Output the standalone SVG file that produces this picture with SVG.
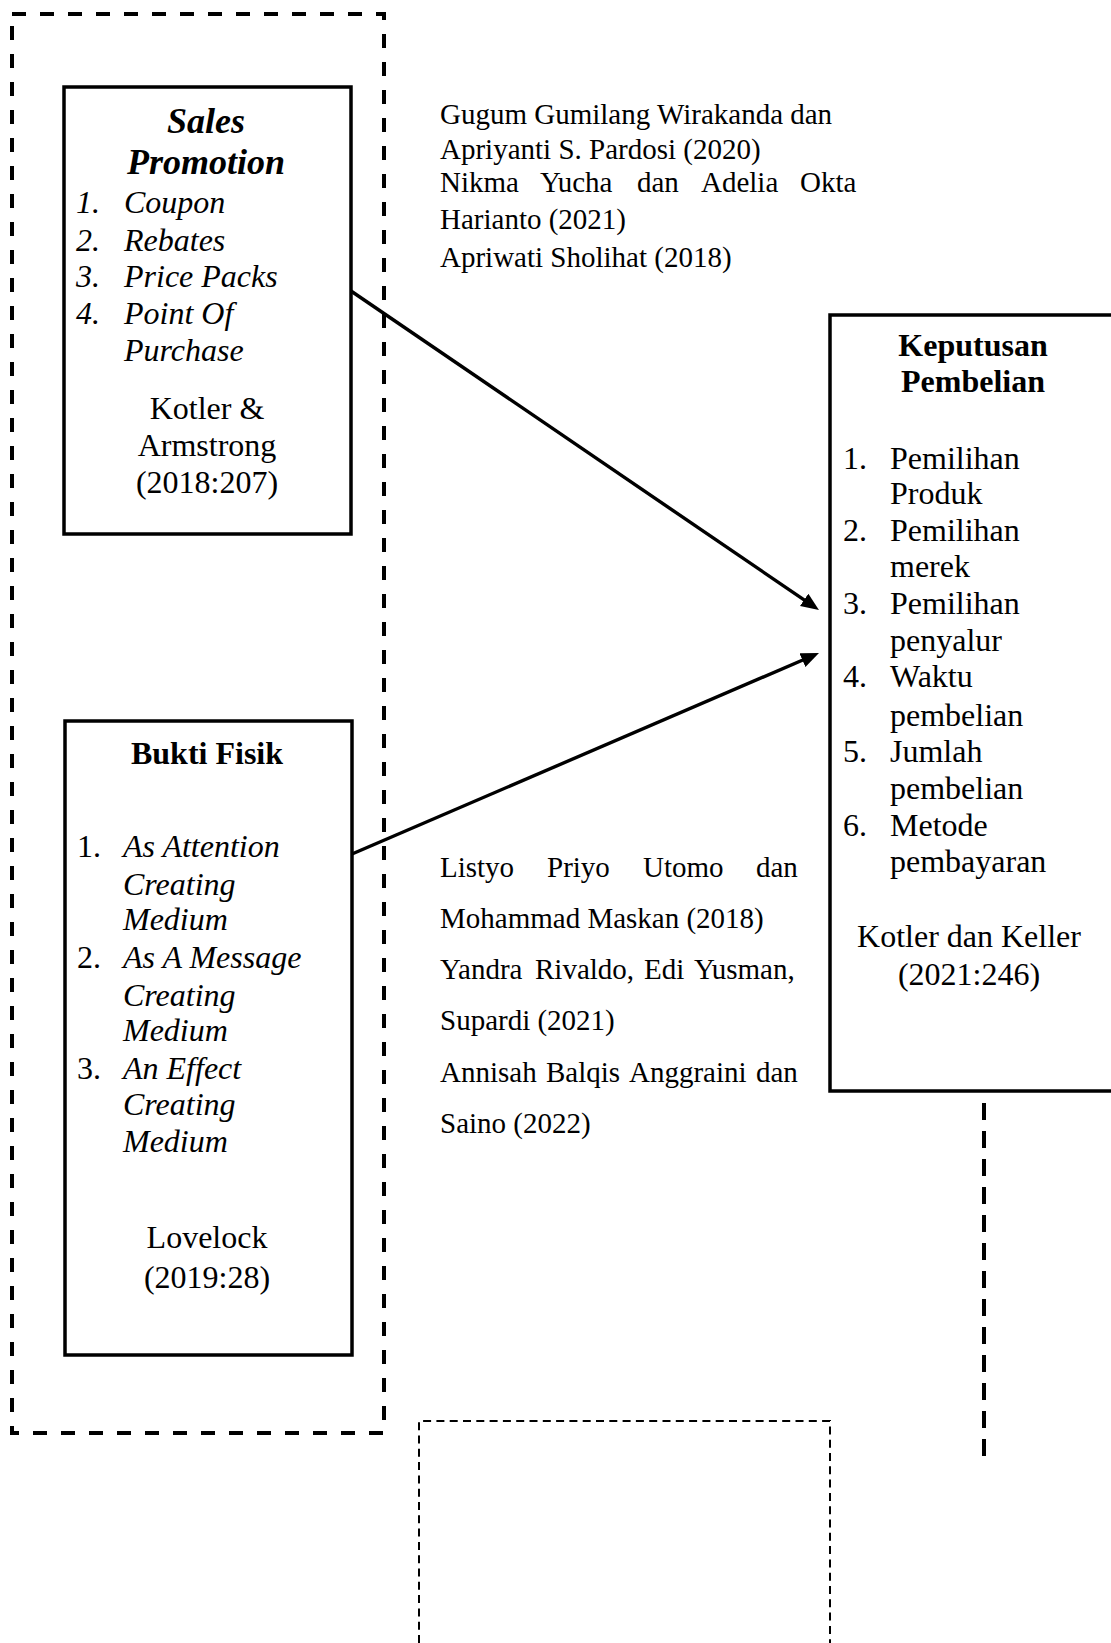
<svg xmlns="http://www.w3.org/2000/svg" width="1111" height="1643" viewBox="0 0 1111 1643">
<style>
text{font-family:"Liberation Serif","Times New Roman",serif;fill:#000}
.t{font-size:32px}
.c{font-size:29px}
.i{font-style:italic}
.b{font-weight:bold}
.m{text-anchor:middle}
.box{fill:none;stroke:#000;stroke-width:3.5}
.dash{fill:none;stroke:#000;stroke-width:4;stroke-dasharray:14 14}
.thin{fill:none;stroke:#000;stroke-width:2;stroke-dasharray:8 5.3}
.conn{fill:none;stroke:#000;stroke-width:3.4}
</style>
<defs>
<marker id="ah" markerUnits="userSpaceOnUse" markerWidth="20" markerHeight="16" refX="8" refY="7.5" orient="auto">
<path d="M0,0 L18,7.5 L0,15 Z" fill="#000"/>
</marker>
</defs>
<rect width="1111" height="1643" fill="#fff"/>

<g id="frame-left">
<rect class="dash" x="12" y="14" width="372" height="1419"/>
</g>

<g id="sales-promotion">
<rect class="box" x="64" y="87" width="287" height="447"/>
<text class="b i m" x="206" y="133" font-size="36">Sales</text>
<text class="b i m" x="206" y="174" font-size="36">Promotion</text>
<text class="t i" x="76" y="213">1.</text><text class="t i" x="124" y="213">Coupon</text>
<text class="t i" x="76" y="251">2.</text><text class="t i" x="124" y="251">Rebates</text>
<text class="t i" x="76" y="287">3.</text><text class="t i" x="124" y="287">Price Packs</text>
<text class="t i" x="76" y="324">4.</text><text class="t i" x="124" y="324">Point Of</text>
<text class="t i" x="124" y="361">Purchase</text>
<text class="t m" x="207" y="419">Kotler &amp;</text>
<text class="t m" x="207" y="456">Armstrong</text>
<text class="t m" x="207" y="493">(2018:207)</text>
</g>

<g id="bukti-fisik">
<rect class="box" x="65" y="721" width="287" height="634"/>
<text class="t b m" x="207" y="764">Bukti Fisik</text>
<text class="t" x="77" y="857">1.</text><text class="t i" x="123" y="857">As Attention</text>
<text class="t i" x="123" y="895">Creating</text>
<text class="t i" x="123" y="930">Medium</text>
<text class="t" x="77" y="968">2.</text><text class="t i" x="123" y="968">As A Message</text>
<text class="t i" x="123" y="1006">Creating</text>
<text class="t i" x="123" y="1041">Medium</text>
<text class="t" x="77" y="1079">3.</text><text class="t i" x="123" y="1079">An Effect</text>
<text class="t i" x="123" y="1115">Creating</text>
<text class="t i" x="123" y="1152">Medium</text>
<text class="t m" x="207" y="1248">Lovelock</text>
<text class="t m" x="207" y="1288">(2019:28)</text>
</g>

<g id="keputusan-pembelian">
<rect class="box" x="830" y="315" width="290" height="776"/>
<text class="t b m" x="973" y="356">Keputusan</text>
<text class="t b m" x="973" y="392">Pembelian</text>
<text class="t" x="843" y="469">1.</text><text class="t" x="890" y="469">Pemilihan</text>
<text class="t" x="890" y="504">Produk</text>
<text class="t" x="843" y="541">2.</text><text class="t" x="890" y="541">Pemilihan</text>
<text class="t" x="890" y="577">merek</text>
<text class="t" x="843" y="614">3.</text><text class="t" x="890" y="614">Pemilihan</text>
<text class="t" x="890" y="651">penyalur</text>
<text class="t" x="843" y="687">4.</text><text class="t" x="890" y="687">Waktu</text>
<text class="t" x="890" y="726">pembelian</text>
<text class="t" x="843" y="762">5.</text><text class="t" x="890" y="762">Jumlah</text>
<text class="t" x="890" y="799">pembelian</text>
<text class="t" x="843" y="836">6.</text><text class="t" x="890" y="836">Metode</text>
<text class="t" x="890" y="872">pembayaran</text>
<text class="t m" x="969" y="947">Kotler dan Keller</text>
<text class="t m" x="969" y="985">(2021:246)</text>
</g>

<g id="citations-top">
<text class="c" x="440" y="124">Gugum Gumilang Wirakanda dan</text>
<text class="c" x="440" y="159">Apriyanti S. Pardosi (2020)</text>
<text class="c" y="192"><tspan x="440">Nikma</tspan><tspan x="540">Yucha</tspan><tspan x="637">dan</tspan><tspan x="701">Adelia</tspan><tspan x="800">Okta</tspan></text>
<text class="c" x="440" y="229">Harianto (2021)</text>
<text class="c" x="440" y="267">Apriwati Sholihat (2018)</text>
</g>

<g id="citations-bottom">
<text class="c" y="877"><tspan x="440">Listyo</tspan><tspan x="547">Priyo</tspan><tspan x="643">Utomo</tspan><tspan x="756">dan</tspan></text>
<text class="c" x="440" y="928">Mohammad Maskan (2018)</text>
<text class="c" y="979"><tspan x="440">Yandra</tspan><tspan x="535">Rivaldo,</tspan><tspan x="644">Edi</tspan><tspan x="694">Yusman,</tspan></text>
<text class="c" x="440" y="1030">Supardi (2021)</text>
<text class="c" y="1082"><tspan x="440">Annisah</tspan><tspan x="546">Balqis</tspan><tspan x="629">Anggraini</tspan><tspan x="756">dan</tspan></text>
<text class="c" x="440" y="1133">Saino (2022)</text>
</g>

<g id="frame-bottom">
<path class="thin" d="M419,1643 L419,1421 L830,1421 L830,1643"/>
</g>

<g id="connectors">
<line class="conn" x1="351" y1="291" x2="810.7" y2="604.4" marker-end="url(#ah)"/>
<line class="conn" x1="352" y1="854" x2="809.8" y2="657" marker-end="url(#ah)"/>
<line class="dash" x1="984" y1="1103" x2="984" y2="1457" style="stroke-dasharray:17 11"/>
</g>
</svg>
